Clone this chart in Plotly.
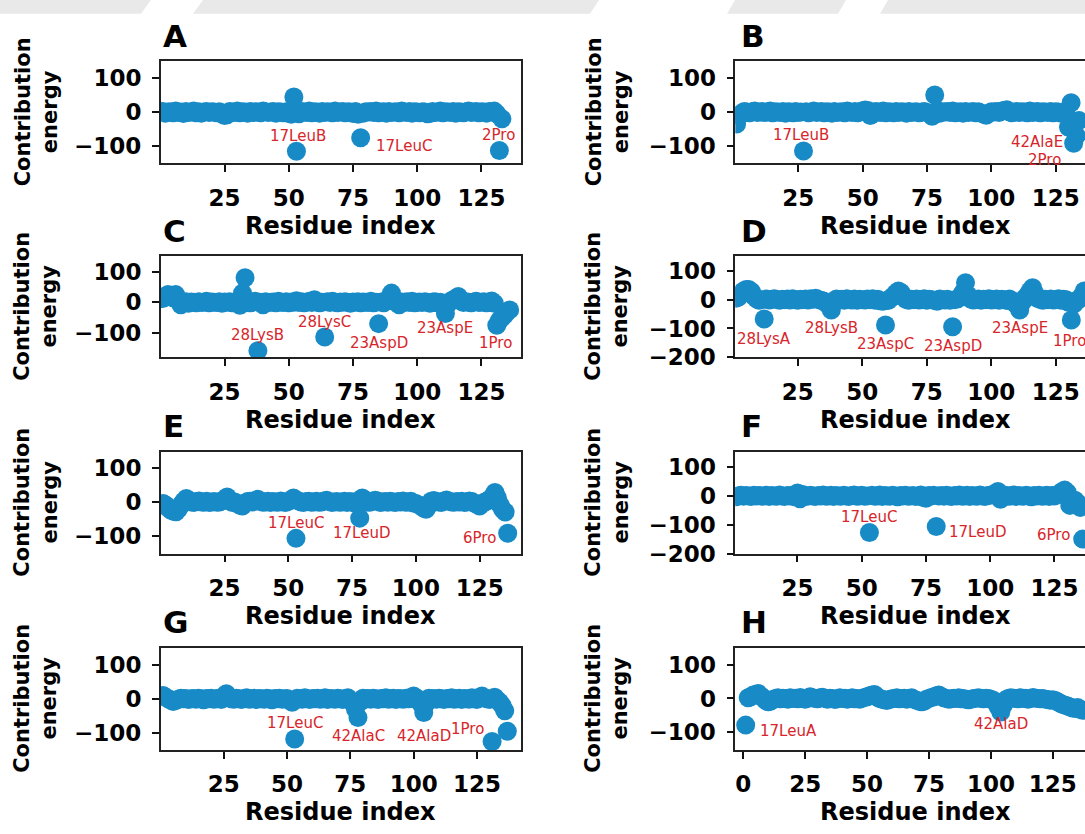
import plotly.graph_objects as go

# ---------------- data (contribution energy per residue index) ----------------
energy_A = [2, -3, 0, 1, -2, 3, -1, 0, -4, 2,
            -1, 0, 3, -2, 1, -3, 0, 2, -1, 1,
            0, -2, 1, -4, -10, -8, 2, 0, -1, 3,
            -2, 1, 0, -3, 2, -1, 1, 0, -2, 3,
            1, -1, 0, 2, -3, 1, 0, -2, 1, -4,
            -6, 45, -116, -5, 2, 0, -1, 3, -2, 1,
            0, -3, 2, -1, 1, 0, -2, 3, -1, 0,
            2, -2, 1, 0, -4, 2, -6, -76, -3, 1,
            0, 2, -1, 3, -2, 0, 1, -3, 2, -1,
            0, 1, -2, 3, 0, -1, 2, -3, 1, 0,
            -2, 1, 0, -5, -4, 2, -1, 0, 3, -2,
            1, 0, -1, 2, -3, 1, 0, -2, 1, 3,
            -1, 0, 2, -2, 1, 0, -3, 2, 1, 3,
            -5, -114, -20]
energy_B = [-35, -10, -3, 2, 0, -2, 1, 3, -1, 0,
            2, -1, 0, 3, -2, 1, 0, -1, 2, -3,
            1, 0, -2, 2, -1, 0, -115, 1, -2, 0,
            3, -1, 0, 2, -2, 1, 0, -3, 2, -1,
            0, 1, -2, 3, 0, -1, 2, -2, 1, 4,
            6, 5, -10, -4, 2, 0, -1, 3, -2, 1,
            0, -2, 2, -1, 1, 0, -3, 2, -1, 0,
            1, -2, 0, 2, -1, -4, -12, 51, 5, -3,
            1, 0, 2, -1, 3, -2, 0, 1, -3, 2,
            -1, 0, 2, -2, 1, -3, -6, -9, -3, 1,
            0, 2, -1, 3, 5, 7, 1, -2, 0, 2,
            -1, 1, 0, -2, 3, -1, 0, 2, -2, 1,
            0, -1, 2, -2, 1, 0, -3, -1, -5, -45,
            28, -92, -70, -25]
energy_C = [12, 20, 25, 22, 15, 25, 8, -8, 0, 2,
            -3, 1, 0, -2, 2, -1, 0, 3, -2, 1,
            0, -1, 2, -3, 1, 0, 2, -2, 1, 3,
            -10, 30, 80, 5, -2, 1, 3, -159, 0, -8,
            2, -1, 0, 1, -2, 3, 0, -1, 2, -2,
            1, 0, 5, -1, 2, -2, 0, 3, -1, 8,
            1, -2, 0, -114, 2, -1, 3, 0, -2, 1,
            0, 2, -1, -3, 1, 0, 2, -2, 1, 0,
            -1, 3, -2, 0, -70, 1, -2, 5, 12, 30,
            8, -2, -8, 1, 0, 2, -1, 3, -2, 0,
            1, -1, 2, 0, -3, 1, 2, -2, 0, -10,
            -37, -5, 3, 8, 12, 19, 5, -1, 2, 0,
            -2, 1, 3, -1, 0, 2, -2, 1, 4, -3,
            -75, -60, -50, -42, -30, -25]
energy_D = [5, 8, 20, 30, 35, 35, 28, 12, 3, -2,
            0, -67, 2, -1, 1, 3, 0, -2, 1, 0,
            2, -1, 3, 0, -2, 1, 0, 2, -1, 3,
            1, 5, 0, -2, -5, -12, -20, -36, -10, 2,
            0, 1, -2, 3, 0, -1, 2, -2, 1, 0,
            -1, 2, 0, 3, -2, 1, -4, -6, -88, -3,
            5, 12, 22, 30, 25, 8, 0, -2, 1, 0,
            2, -1, 0, 3, -2, 1, 0, -3, -6, 2,
            0, -1, 1, -2, -94, 0, 3, 10, 25, 59,
            15, 2, -1, 0, 2, -2, 1, 0, 3, -1,
            0, 2, -2, 1, 0, -3, 2, -4, -12, -20,
            -36, -8, 5, 15, 30, 41, 20, 4, 0, -2,
            1, 0, 2, -1, 0, 3, -2, 1, 0, -10,
            -71, -15, -5, 2, 12, 30]
energy_E = [-5, -10, -18, -25, -28, -29, -20, -8, 2, 10,
            5, 0, -2, 1, 3, 0, -1, 2, -2, 0,
            1, -1, 0, 3, 8, 15, 5, -2, 0, -5,
            -10, -12, -3, 1, 2, 0, 4, 8, 2, -1,
            0, 2, -2, 1, 0, -1, 3, 0, -2, 2,
            5, 12, -108, 3, 0, -2, 1, 2, -1, 0,
            2, -1, 0, 3, 5, 1, -2, 0, 1, -1,
            0, 2, -2, 1, 0, -3, 2, -48, 12, 4,
            0, -1, 2, 5, 3, -2, 0, 1, -1, 2,
            0, -2, 1, 0, 3, -1, 0, 2, -3, -5,
            -8, -12, -18, -22, -10, 2, 4, 1, 0, -2,
            3, 6, 2, 0, -1, 1, 0, 2, -2, 0,
            3, 1, -4, -8, -12, -5, 0, 3, 8, 15,
            28, 12, -8, -22, -30, -93]
energy_F = [-3, 0, 2, -1, 1, 0, -2, 2, 0, 1,
            -1, 0, 2, -2, 1, 0, -1, 3, 0, -2,
            1, 0, 2, -3, 10, -10, 5, 0, -1, 2,
            0, -2, 1, 0, 3, -1, 0, 2, -2, 1,
            0, -1, 2, 0, -2, 1, 3, -1, 0, 2,
            -1, 0, -127, 2, -1, 0, 3, -2, 1, 0,
            -1, 2, 0, -3, 1, 0, 2, -1, 0, 1,
            -2, 0, 3, -6, -8, 1, 0, 2, -106, 0,
            1, -1, 2, 0, -2, 1, 0, 3, -1, 0,
            2, -2, 1, 0, -1, 3, 0, -2, 1, 2,
            5, 8, 15, -12, 0, 2, -1, 0, 3, -2,
            1, 0, -1, 2, 0, -3, 1, 0, 2, -1,
            0, 2, -2, 1, 0, 3, 8, 15, 20, 12,
            -33, -20, -15, -25, -40, -150]
energy_G = [10, 5, 0, -3, -8, -5, -1, 2, 0, 1,
            -2, 0, 1, -1, 2, 0, -3, 1, 0, 2,
            -1, 0, 2, -2, 8, 15, 5, 0, -1, 2,
            0, -2, 1, 3, -1, 0, 2, -2, 1, 0,
            -1, 2, 0, -3, 1, 0, 2, -1, 0, 1,
            -4, -10, -118, 2, 0, -1, 3, 0, -2, 1,
            0, 2, -1, 0, 3, -2, 1, 0, -1, 2,
            0, -2, 1, 3, -5, -12, -30, -55, -8, 2,
            0, 1, -1, 2, 0, -2, 1, 0, 3, -1,
            0, 2, -2, 1, 0, -1, 2, 0, 5, 8,
            3, -5, -15, -40, -12, 2, 0, 1, -1, 2,
            0, -2, 1, 0, 3, -1, 0, 2, -2, 1,
            0, -1, 3, 0, -2, 5, 8, 3, 0, -2,
            -125, 5, -3, -10, -20, -35, -95]
energy_H = [-79, 2, 5, 10, 12, 15, 8, 2, -5, -10,
            -8, -3, 0, 2, -1, 1, 0, -2, 2, 0,
            1, -1, 3, 0, -2, 1, 5, 2, 0, -1,
            2, 4, 0, -2, 1, 0, -3, -1, 2, 0,
            1, -2, 0, 2, -1, 0, -2, 1, 3, 5,
            8, 10, 12, 5, 0, -2, -4, -6, -3, -1,
            0, 2, -1, 0, 1, -2, 0, 2, -3, -5,
            -8, -10, -8, -2, 0, 3, 5, 8, 10, 6,
            2, 0, -2, -1, 1, 0, 2, -1, 0, -3,
            -4, -2, 0, 1, 2, 0, -1, 1, 0, -2,
            -5, -12, -25, -40, -20, -4, 0, 2, 1, 0,
            -1, 2, 0, 1, -2, 0, 3, 1, 0, -1,
            0, -2, -3, -5, -4, -6, -10, -14, -18, -20,
            -22, -25, -28, -30, -27, -32, -35]

# labelled residues (name, residue index)
labels_A = ["17LeuB", "17LeuC", "2Pro"]
label_res_A = [53, 78, 132]
labels_B = ["17LeuB", "42AlaE", "2Pro"]
label_res_B = [27, 130, 132]
labels_C = ["28LysB", "28LysC", "23AspD", "23AspE", "1Pro"]
label_res_C = [38, 64, 85, 111, 131]
labels_D = ["28LysA", "28LysB", "23AspC", "23AspD", "23AspE", "1Pro"]
label_res_D = [12, 38, 59, 85, 111, 131]
labels_E = ["17LeuC", "17LeuD", "6Pro"]
label_res_E = [53, 78, 136]
labels_F = ["17LeuC", "17LeuD", "6Pro"]
label_res_F = [53, 79, 136]
labels_G = ["17LeuC", "42AlaC", "42AlaD", "1Pro"]
label_res_G = [53, 78, 104, 131]
labels_H = ["17LeuA", "42AlaD"]
label_res_H = [1, 104]

panel_letters = ["A", "B", "C", "D", "E", "F", "G", "H"]
x_ticks_common = [25, 50, 75, 100, 125]
x_ticks_H = [0, 25, 50, 75, 100, 125]
y_ticks_3 = [100, 0, -100]
y_ticks_4 = [100, 0, -100, -200]

# ---------------- styling / layout (pixels) ----------------
W, H = 1085, 834
BLUE = "#188bc7"
RED = "#d7262b"
FONT = "DejaVu Sans"

COLS = [(160.8, 520.7), (735.3, 1085.0)]
ROWS = [(62.3, 166.0), (260.5, 362.9), (459.0, 562.3), (658.0, 761.8)]
X_RANGES = [[0.2, 140.3], [0.5, 136.4], [0.2, 140.3], [0.8, 136.3],
            [0.0, 141.1], [0.8, 136.9], [0.1, 142.3], [-3.2, 138.0]]
Y_RANGES = [[-152, 150.5], [-152, 150.5], [-180, 150], [-200, 150],
            [-153, 148.5], [-200, 152.7], [-150, 150], [-152.6, 150.6]]
# (xanchor, xshift px, yshift px) for each label
LABEL_OFFSETS = {
    "A": [("center", 2, 15.5), ("left", 13, -8.6), ("center", -1, 16)],
    "B": [("center", -2, 16), ("right", -3.7, -14.3), ("right", -10.9, -17.3)],
    "C": [("center", 0, 15.6), ("center", 0, 14.7), ("center", 0, -18.9),
          ("center", 0, -14.6), ("center", -1.6, -18)],
    "D": [("center", 0, -20.2), ("center", 0, -18.3), ("center", 0, -19.2),
          ("center", 0, -19.3), ("center", 0, -18.3), ("left", -20, -20.8)],
    "E": [("center", 0, 15.3), ("center", 2, -14.4), ("right", -9.8, -4.6)],
    "F": [("center", 0, 15.7), ("left", 11, -5.4), ("right", -11.1, 4.1)],
    "G": [("center", 0, 15.8), ("center", 1, -18.3), ("center", 0, -23.4),
          ("right", -6.5, 12)],
    "H": [("left", 12.5, -5.8), ("center", 0, -12.2)],
}

energies = [energy_A, energy_B, energy_C, energy_D,
            energy_E, energy_F, energy_G, energy_H]
labels = [labels_A, labels_B, labels_C, labels_D,
          labels_E, labels_F, labels_G, labels_H]
label_res = [label_res_A, label_res_B, label_res_C, label_res_D,
             label_res_E, label_res_F, label_res_G, label_res_H]


def px(xp):
    return xp / W


def py(yp):
    return 1 - yp / H


def tick_text(vals):
    return [("\u2212" + str(-v)) if v < 0 else str(v) for v in vals]


fig = go.Figure()
annotations = []
layout_axes = {}

for i, letter in enumerate(panel_letters):
    col = i % 2
    row = i // 2
    n = "" if i == 0 else str(i + 1)
    xa, ya = "x" + n, "y" + n
    vals = energies[i]
    xs = list(range(1, len(vals) + 1))
    fig.add_trace(go.Scatter(
        x=xs, y=vals, mode="markers", xaxis=xa, yaxis=ya,
        marker=dict(size=19, color=BLUE, line=dict(width=0)),
        showlegend=False, hoverinfo="skip"))

    x0, x1 = COLS[col]
    y0, y1 = ROWS[row]
    xt = x_ticks_H if letter == "H" else x_ticks_common
    yt = y_ticks_4 if Y_RANGES[i][0] <= -200 else y_ticks_3
    tickfont = dict(family=FONT, size=23, color="black", weight="bold")
    layout_axes["xaxis" + n] = dict(
        domain=[px(x0), px(x1)], range=X_RANGES[i], anchor=ya,
        tickmode="array", tickvals=xt, ticktext=[str(v) for v in xt],
        ticks="outside", ticklen=7, tickwidth=1.5, tickcolor="#111",
        showline=True, linecolor="#222", linewidth=1.6, mirror=True,
        showgrid=False, zeroline=False, tickfont=tickfont,
        ticklabelstandoff=6, fixedrange=True)
    layout_axes["yaxis" + n] = dict(
        domain=[py(y1), py(y0)], range=Y_RANGES[i], anchor=xa,
        tickmode="array", tickvals=yt, ticktext=tick_text(yt),
        ticks="outside", ticklen=7, tickwidth=1.5, tickcolor="#111",
        showline=True, linecolor="#222", linewidth=1.6,
        mirror=(col == 0),
        showgrid=False, zeroline=False, tickfont=tickfont,
        ticklabelstandoff=6, fixedrange=True)

    # residue labels
    for name, r, (anch, dx, dy) in zip(labels[i], label_res[i], LABEL_OFFSETS[letter]):
        annotations.append(dict(
            x=r, y=vals[r - 1], xref=xa, yref=ya, text=name, showarrow=False,
            xanchor=anch, yanchor="middle", xshift=dx, yshift=dy,
            font=dict(family=FONT, size=15, color=RED)))

    # panel letter
    lx = 161 if col == 0 else 739
    annotations.append(dict(
        x=px(lx), y=py(y0 - 26), xref="paper", yref="paper", text=letter,
        showarrow=False, xanchor="left", yanchor="middle",
        font=dict(family=FONT, size=31, color="black", weight="bold")))

    # x axis title
    xc = (x0 + (x1 if col == 0 else 1095.2)) / 2
    annotations.append(dict(
        x=px(xc), y=py(y1 + 63.5), xref="paper", yref="paper",
        text="Residue index", showarrow=False, xanchor="center", yanchor="middle",
        font=dict(family=FONT, size=24, color="black", weight="bold")))

    # y axis title
    tx = 36 if col == 0 else 607
    annotations.append(dict(
        x=px(tx), y=py((y0 + y1) / 2), xref="paper", yref="paper",
        text="Contribution<br>energy", showarrow=False, textangle=-90,
        xanchor="center", yanchor="middle",
        font=dict(family=FONT, size=21, color="black", weight="bold")))

# faint watermark remnants at the very top
WM = "#e9e9e9"
wm_polys = [
    [(0, 0), (151, 0), (141, 14), (0, 14)],
    [(203, 0), (599, 0), (590, 14), (193, 14)],
    [(735, 0), (846, 0), (838, 14), (727, 14)],
    [(888, 0), (1085, 0), (1085, 14), (880, 14)],
]
shapes = []
for poly in wm_polys:
    path = "M " + " L ".join(f"{px(a):.5f},{py(b):.5f}" for a, b in poly) + " Z"
    shapes.append(dict(type="path", path=path, xref="paper", yref="paper",
                       fillcolor=WM, line=dict(width=0), layer="below"))

fig.update_layout(
    width=W, height=H, margin=dict(l=0, r=0, t=0, b=0),
    paper_bgcolor="white", plot_bgcolor="white",
    showlegend=False, annotations=annotations, shapes=shapes,
    **layout_axes)

fig.write_html("out.html", config={"displayModeBar": False})
